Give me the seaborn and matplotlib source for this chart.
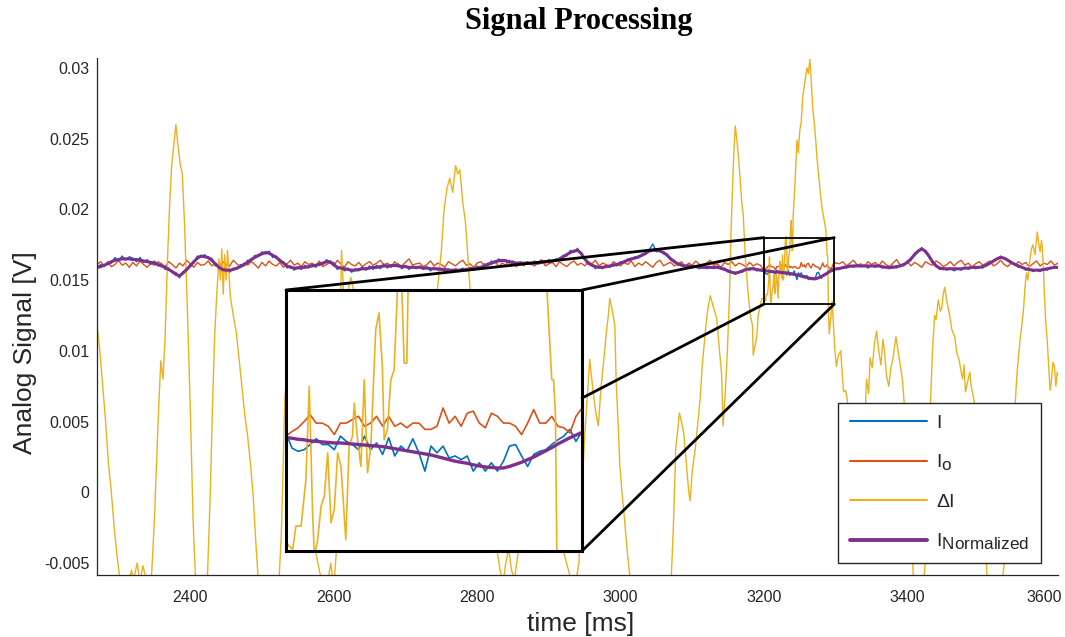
import numpy as np
import matplotlib
matplotlib.use("Agg")
import matplotlib.pyplot as plt
import matplotlib._mathtext as mathtext_core
from matplotlib.patches import Rectangle, ConnectionPatch
from matplotlib.lines import Line2D
from matplotlib.ticker import FuncFormatter
from matplotlib.transforms import ScaledTranslation
import seaborn as sns

# ---------------------------------------------------------------------------
# Sample grids in ms: 5 ms record outside the detail window, 2 ms inside it
# ---------------------------------------------------------------------------
t_coarse = np.concatenate([np.arange(2270, 3200, 5), np.arange(3305, 3611, 5)])
t_fine = np.arange(3200, 3300, 2)

# All amplitudes below are in units of 0.1 mV
i_coarse = [
    158.5, 161, 159.5, 163, 162, 166, 163.5, 167, 164, 166.5,
    165.5, 163, 166, 162.5, 164.5, 161, 163.5, 160, 161.5, 157.5,
    158.5, 155, 155.5, 151.5, 156, 156.5, 161.5, 162, 167, 166,
    168, 165, 165.5, 160, 160.5, 156, 158, 155.5, 158.5, 157.5,
    161, 160, 164, 163.5, 167.5, 166.5, 170, 168.5, 170.5, 166,
    167, 162.5, 163, 158.5, 160, 157, 159.5, 157.5, 160.5, 158.5,
    161.5, 159, 162.5, 161, 164.5, 162, 162.5, 157.5, 159.5, 156.5,
    158.5, 155.5, 158, 156.5, 159.5, 157, 160, 157.5, 160.5, 158,
    161.5, 158.5, 161, 159.5, 161.5, 158, 160.5, 157.5, 160, 158,
    160, 157.5, 159.5, 156.5, 159, 157, 158.5, 156, 158, 155.5,
    158, 156, 158.5, 156.5, 159, 157, 160, 158, 161.5, 160,
    163.5, 162, 165, 163, 164.5, 162, 163.5, 161, 163, 161,
    163, 161, 163.5, 161.5, 163.5, 162, 164.5, 162.5, 165, 164,
    167.5, 167, 171, 169.5, 172.5, 168, 166, 161, 161.5, 158,
    160, 158, 160.5, 159, 161.5, 160, 163, 162, 165, 164,
    166.5, 165.5, 168.5, 168, 171.5, 175.5, 170, 171.5, 168.5, 168.5,
    164, 164, 160.5, 161.5, 159, 160.5, 158.5, 160, 158, 159.5,
    158, 159.5, 158, 160, 157.5, 158.5, 155.5, 156, 154, 156,
    155.5, 158.5, 157, 159, 156.5, 157.5,
    157.5, 159.5, 158.5, 160.5, 159, 161, 159.5, 160.5, 158.5, 160.5,
    159, 160.5, 158.5, 159.5, 158, 160, 158.5, 161, 160, 163.5,
    164, 169, 170, 173, 169.5, 167.5, 162, 160.5, 157.5, 158.5,
    157, 158.5, 156.5, 158, 157, 159, 157.5, 159.5, 158, 159.5,
    158.5, 161, 161.5, 164, 164.5, 167, 165, 164.5, 161.5, 161.5,
    159, 159.5, 157, 158, 156, 157.5, 156, 158, 157, 159,
    158.5, 159.5,
]

io_coarse = [
    161, 163, 160, 162.5, 159.5, 161, 164, 160.5, 162, 159,
    162.5, 160, 163.5, 161, 159, 162, 160.5, 163, 161.5, 159.5,
    163, 161, 158.5, 162, 160, 164, 161.5, 159, 162.5, 160.5,
    161, 163.5, 160, 162, 159.5, 163, 161, 160, 164, 161.5,
    159.5, 162, 160.5, 163, 161, 158.5, 162.5, 160, 163.5, 161,
    160, 162.5, 159, 161.5, 164, 160.5, 162, 159.5, 163, 161,
    162, 160, 163.5, 159.5, 161, 162.5, 160, 164, 161.5, 159,
    163, 161, 160, 162.5, 159.5, 161.5, 163, 160.5, 162, 164,
    160.5, 162, 159, 163, 161, 160, 162.5, 165, 160.5, 161.5,
    162, 159.5, 161, 163.5, 160, 162, 161, 159, 163, 161.5,
    160, 162.5, 164, 160.5, 161.5, 159, 162, 163, 160.5, 162,
    161, 163.5, 159.5, 162, 160.5, 164, 161, 159.5, 162.5, 160,
    163, 161.5, 160, 162.5, 164.5, 160, 161.5, 162.5, 159.5, 163,
    161, 159.5, 162, 163.5, 160.5, 162, 160, 163, 161.5, 164,
    160, 162, 161, 159, 163, 161.5, 160, 162.5, 161, 163.5,
    159.5, 162, 160.5, 163, 161, 159, 162.5, 164, 160, 161.5,
    162.5, 160, 161.5, 163, 159.5, 162, 160.5, 163.5, 161, 160,
    162, 164, 160.5, 161.5, 159, 162.5, 161, 163, 160, 162,
    161, 159.5, 162.5, 160, 161.5, 160.5,
    161.5, 163, 160, 162, 164, 160.5, 161.5, 159.5, 163, 161,
    162.5, 160, 163.5, 161, 159.5, 162, 164.5, 160.5, 161.5, 163,
    160, 162.5, 161, 159, 163, 161.5, 160.5, 163.5, 162, 159.5,
    161, 163, 160, 162.5, 164, 160.5, 162, 159, 161.5, 163,
    160.5, 162, 163.5, 160, 161.5, 164, 161, 159.5, 162.5, 160.5,
    163, 161, 162.5, 159.5, 161.5, 163.5, 160, 162, 161, 163.5,
    160.5, 162,
]

inorm_coarse = [
    159, 159.5, 160.5, 161.5, 163, 164, 164.5, 165, 165, 165,
    164.5, 164.5, 164, 163.5, 163, 162.5, 162, 161, 160, 159,
    157.5, 156, 154, 153, 155, 157.5, 160, 163, 165.5, 167,
    166.5, 166, 164, 161.5, 159, 157.5, 157, 157, 157.5, 158.5,
    159.5, 161, 162.5, 164.5, 166, 167.5, 168.5, 169.5, 169, 167.5,
    166, 164, 162, 160, 159, 158.5, 158.5, 159, 159, 159.5,
    160, 160.5, 161, 162, 163, 163, 161, 159, 158.5, 158,
    157.5, 157, 157, 157.5, 158, 158, 158.5, 159, 159, 159.5,
    160, 160, 160, 160.5, 160, 159.5, 159.5, 159, 159, 159,
    159, 158.5, 158.5, 158, 158, 158, 157.5, 157.5, 157, 157,
    157, 157, 157.5, 157.5, 158, 158, 158.5, 159, 160, 161,
    162, 163, 163.5, 164, 163.5, 163, 162.5, 162, 162, 162,
    162, 162, 162, 162, 162.5, 163, 163, 163.5, 164, 165,
    166.5, 168, 169.5, 170.5, 171, 169, 165, 162, 160.5, 159.5,
    159, 159, 159.5, 160, 160.5, 161, 162, 163, 164, 165,
    165.5, 166.5, 167.5, 169, 170.5, 171, 171, 170.5, 169.5, 167.5,
    165, 163, 161.5, 160.5, 160, 160, 159.5, 159.5, 159, 159,
    159, 159, 159, 159, 158.5, 157.5, 156.5, 155.5, 155, 155.5,
    156.5, 157.5, 158, 158, 157.5, 157,
    158.2, 158.8, 159.3, 159.8, 160, 160, 160, 160, 160, 160,
    160, 160, 159.5, 159, 159, 159, 159.5, 160, 161, 162.5,
    165, 168, 170.5, 172, 170.5, 167, 163, 160, 158.5, 158,
    158, 158, 158, 158, 158, 158.5, 158.5, 159, 159, 159,
    159.5, 160.5, 162, 163.5, 165, 166, 165.5, 164, 162.5, 161,
    160, 159, 158, 157.5, 157, 157, 157, 157.5, 158, 158.5,
    159, 159,
]

i_fine = [
    157.6, 154.7, 154.1, 154.4, 155.4, 156.5, 155.4, 155.4, 154.4, 157.0,
    156.0, 155.4, 154.4, 157.0, 154.4, 155.7, 153.5, 156.7, 153.2, 155.1,
    154.1, 156.5, 153.8, 150.3, 155.1, 153.8, 155.1, 152.8, 153.2, 152.5,
    153.2, 150.3, 151.9, 150.3, 151.9, 150.3, 152.2, 155.1, 155.4, 153.2,
    151.2, 153.5, 154.1, 154.4, 155.4, 156.3, 157.0, 158.3, 156.0, 157.9,
]

io_fine = [
    157.0, 157.9, 158.6, 159.8, 161.1, 159.5, 159.5, 158.9, 157.3, 159.5,
    159.5, 160.2, 160.8, 158.9, 159.5, 160.8, 158.9, 160.8, 158.9, 159.5,
    158.6, 159.5, 159.5, 158.3, 158.3, 158.9, 162.4, 159.5, 160.8, 158.9,
    161.4, 161.8, 159.5, 158.6, 161.4, 160.8, 159.5, 159.5, 158.9, 157.3,
    159.5, 162.1, 159.5, 159.5, 160.8, 158.9, 158.6, 157.6, 160.8, 162.4,
]

inorm_fine = [
    156.7, 156.6, 156.4, 156.3, 156.1, 156.0, 155.9, 155.8, 155.7, 155.7,
    155.6, 155.5, 155.4, 155.3, 155.2, 155.1, 155.0, 154.8, 154.6, 154.4,
    154.2, 154.0, 153.8, 153.6, 153.4, 153.1, 152.8, 152.5, 152.2, 152.0,
    151.8, 151.5, 151.3, 151.1, 151.0, 150.9, 150.9, 151.2, 151.6, 152.0,
    152.5, 153.0, 153.6, 154.2, 154.8, 155.5, 156.1, 156.7, 157.2, 157.7,
]

# Difference signal, (time in ms, amplitude in 0.1 mV)
delta_i_pairs = [
    (2270, 118), (2274, 100), (2278, 75), (2282, 50), (2286, 20), (2290, 0),
    (2294, -25), (2298, -45), (2302, -62), (2306, -70), (2312, -70), (2318, -55),
    (2321, -62), (2326, -50), (2330, -64), (2334, -52), (2338, -60), (2342, -70),
    (2346, -60), (2350, -20), (2353, 20), (2356, 60), (2359, 93), (2362, 80),
    (2365, 110), (2368, 160), (2371, 200), (2374, 230), (2377, 245), (2380, 260),
    (2383, 245), (2386, 232), (2389, 225), (2392, 190), (2396, 130), (2400, 60),
    (2404, -20), (2408, -70), (2420, -70), (2424, -60), (2428, 0), (2431, 60),
    (2434, 110), (2437, 140), (2440, 165), (2442, 150), (2444, 172), (2446, 140),
    (2448, 168), (2450, 150), (2452, 171), (2454, 155), (2456, 138), (2460, 125),
    (2464, 114), (2468, 95), (2472, 75), (2476, 55), (2480, 40), (2484, 20),
    (2488, -4), (2492, -40), (2496, -70), (2523, -70), (2527, -30), (2532, 67),
    (2536, 90), (2540, 60), (2545, 30), (2550, 10), (2556, -10), (2562, -30),
    (2568, -20), (2574, -40), (2580, -55), (2586, -70), (2592, -62), (2596, -50),
    (2600, -68), (2604, -40), (2607, 40), (2609, 120), (2611, 171), (2613, 150),
    (2615, 120), (2618, 130), (2621, 145), (2624, 152), (2627, 145), (2630, 120),
    (2636, 90), (2642, 70), (2650, 50), (2658, 30), (2666, 10), (2676, -10),
    (2686, -30), (2696, -10), (2706, 20), (2716, 50), (2726, 80), (2736, 110),
    (2744, 140), (2750, 170), (2754, 200), (2758, 215), (2762, 222), (2766, 212),
    (2770, 231), (2773, 225), (2776, 228), (2780, 205), (2784, 190), (2788, 160),
    (2792, 130), (2798, 90), (2804, 50), (2810, 20), (2818, -10), (2826, -35),
    (2832, -55), (2836, -65), (2840, -50), (2844, -40), (2848, -55), (2852, -62),
    (2858, -40), (2866, -10), (2874, 20), (2882, 40), (2890, 30), (2898, 10),
    (2906, -10), (2914, -30), (2922, -45), (2930, -60), (2936, -68), (2942, -50),
    (2946, 0), (2950, 40), (2954, 70), (2957, 94), (2962, 70), (2966, 55),
    (2969, 47), (2973, 75), (2977, 95), (2980, 112), (2983, 125), (2985, 137),
    (2988, 130), (2992, 118), (2994, 77), (2997, 45), (2999, 19), (3002, 0),
    (3005, -16), (3010, -45), (3015, -70), (3070, -70), (3074, -20), (3077, 31),
    (3080, 45), (3082, 56), (3085, 50), (3088, 42), (3091, 25), (3095, 1),
    (3097, -6), (3100, 15), (3104, 30), (3108, 50), (3111, 66), (3114, 90),
    (3118, 112), (3121, 127), (3125, 139), (3129, 132), (3134, 123), (3138, 100),
    (3141, 83), (3143, 47), (3146, 70), (3149, 100), (3152, 140), (3154, 183),
    (3156, 213), (3158, 240), (3160, 259), (3162, 250), (3164, 240), (3167, 220),
    (3169, 205), (3171, 197), (3174, 166), (3178, 140), (3181, 125), (3184, 118),
    (3185, 97), (3188, 105), (3190, 110), (3192, 125), (3194, 130), (3197, 137),
    (3200.0, 136.6), (3202.2, 135.3), (3203.3, 139.8), (3205.0, 139.8),
    (3206.6, 148.7), (3207.7, 166.5), (3208.8, 142.3), (3209.4, 134.0),
    (3210.5, 137.2), (3211.6, 143.6), (3212.7, 145.5), (3213.8, 153.8),
    (3214.9, 140.4), (3216.0, 143.0), (3217.1, 153.8), (3218.2, 151.2),
    (3219.8, 137.2), (3220.9, 155.1), (3222.0, 157.0), (3222.6, 163.3),
    (3223.7, 156.3), (3224.8, 151.2), (3225.9, 167.8), (3227.0, 150.0),
    (3228.1, 155.1), (3229.7, 177.4), (3230.8, 180.6), (3231.9, 170.4),
    (3232.5, 156.3), (3233.6, 158.3), (3234.7, 167.8), (3235.8, 169.7),
    (3236.9, 185.0), (3238.0, 192.0), (3239.1, 171.0), (3240.0, 171.0),
    (3240.7, 195.0), (3243, 215), (3246, 249), (3248, 240), (3250, 256),
    (3252, 262), (3254, 279), (3257, 290), (3260, 300), (3262, 296), (3264, 306),
    (3266, 290), (3268, 272), (3270, 262), (3272, 250), (3274, 236), (3276, 225),
    (3278, 215), (3280, 205), (3282, 198), (3284, 192), (3286.4, 185),
    (3288.0, 167.8), (3288.6, 167.8), (3289.2, 161.4), (3289.7, 133),
    (3291, 112), (3293, 122), (3295, 135), (3297, 118), (3299, 100), (3301, 89),
    (3304, 97), (3307, 100), (3309, 85), (3311, 71), (3314, 72), (3316, 66),
    (3318, 55), (3320, 42), (3324, 20), (3329, 10), (3333, 30), (3337, 50),
    (3340, 40), (3343, 80), (3346, 70), (3348, 95), (3351, 88), (3354, 105),
    (3357, 114), (3360, 100), (3363, 90), (3366, 108), (3368, 100), (3371, 82),
    (3374, 75), (3377, 88), (3380, 95), (3384, 110), (3387, 100), (3390, 90),
    (3393, 80), (3396, 60), (3400, 40), (3403, 10), (3406, -30), (3409, -70),
    (3422, -70), (3426, -40), (3429, 10), (3432, 60), (3435, 100), (3438, 125),
    (3440, 122), (3443, 136), (3446, 128), (3448, 130), (3450, 140), (3452, 145),
    (3455, 135), (3459, 125), (3462, 115), (3466, 110), (3469, 98), (3472, 94),
    (3475, 85), (3477, 80), (3479, 90), (3481, 71), (3484, 78), (3487, 85),
    (3489, 75), (3491, 70), (3494, 62), (3497, 50), (3499, 58), (3502, 60),
    (3505, 40), (3508, -20), (3511, -60), (3514, -70), (3530, -70), (3533, -60),
    (3537, -40), (3540, -15), (3543, 0), (3546, 30), (3550, 60), (3553, 85),
    (3557, 107), (3560, 120), (3562, 130), (3564, 145), (3566, 155), (3568, 150),
    (3571, 165), (3573, 172), (3575, 175), (3578, 168), (3581, 184), (3583, 176),
    (3585, 170), (3587, 178), (3588, 173), (3590, 155), (3591, 140), (3593, 120),
    (3595, 107), (3597, 90), (3599, 72), (3601, 80), (3603, 92), (3605, 89),
    (3607, 75), (3609, 85), (3611, 82),
]

series_labels = ["I", r"I$_\mathregular{o}$", "ΔI", r"I$_\mathregular{Normalized}$"]
series_colors = ["#0072BD", "#D95319", "#EDB120", "#7E2F8E"]

xticks = [2400, 2600, 2800, 3000, 3200, 3400, 3600]
yticks = [-0.005, 0, 0.005, 0.01, 0.015, 0.02, 0.025, 0.03]

# ---------------------------------------------------------------------------
# Assemble the full records (0.1 mV -> V)
# ---------------------------------------------------------------------------
scale = 1e-4
t_all = np.concatenate([t_coarse, t_fine])
order = np.argsort(t_all)
t_all = t_all[order]
i_all = np.concatenate([i_coarse, i_fine])[order] * scale
io_all = np.concatenate([io_coarse, io_fine])[order] * scale
inorm_all = np.concatenate([inorm_coarse, inorm_fine])[order] * scale
t_delta, delta_i = np.array(delta_i_pairs, dtype=float).T
delta_i = delta_i * scale

sns.set_style("white")
plt.rcParams["font.family"] = ["Liberation Sans", "DejaVu Sans"]
plt.rcParams["mathtext.fontset"] = "custom"
plt.rcParams["mathtext.rm"] = "Liberation Sans"
# larger subscripts, as in the legend labels
mathtext_core.SHRINK_FACTOR = 0.88

fig = plt.figure(figsize=(10.65, 6.37), dpi=100)
ax = fig.add_axes([97 / 1065, 1 - 575 / 637, 961 / 1065, 517 / 637])

frames = [
    (t_all, i_all, 0, 1.0),
    (t_all, io_all, 1, 1.0),
    (t_delta, delta_i, 2, 1.0),
    (t_all, inorm_all, 3, 2.2),
]
for tx, vy, k, lw in frames:
    sns.lineplot(x=tx, y=vy, ax=ax, color=series_colors[k], linewidth=lw,
                 estimator=None, sort=False)

ax.set_xlim(2270, 3610)
ax.set_ylim(-0.00585, 0.0307)
ax.set_xticks(xticks)
ax.set_yticks(yticks)
ax.yaxis.set_major_formatter(FuncFormatter(lambda v, p: "%g" % round(v, 4)))
ax.tick_params(direction="in", length=5, width=0.9, colors="#262626",
               labelsize=11.5, labelcolor="#262626")
ax.tick_params(axis="y", pad=5.5)
ax.tick_params(axis="x", pad=10.5)
# keep the last x label inside the canvas
last = ax.get_xticklabels()[-1]
last.set_transform(last.get_transform() + ScaledTranslation(-7 / 100, 0, fig.dpi_scale_trans))

for side in ("top", "right"):
    ax.spines[side].set_visible(False)
for side in ("left", "bottom"):
    ax.spines[side].set_color("#262626")
    ax.spines[side].set_linewidth(0.9)

ax.set_xlabel("time [ms]", fontsize=19, color="#262626")
ax.set_ylabel("Analog Signal [V]", fontsize=19, color="#262626")
ax.xaxis.set_label_coords(0.503, -0.072)
ax.yaxis.set_label_coords(-0.062, 0.431)

fig.text(579 / 1065, 1 - 22 / 637, "Signal Processing", ha="center", va="center",
         fontsize=22, fontweight="bold", family="Liberation Serif", color="black")

# Window marker on the main axes
box_x0, box_x1 = 3200, 3298
box_y0, box_y1 = 0.0133, 0.0180
ax.add_patch(Rectangle((box_x0, box_y0), box_x1 - box_x0, box_y1 - box_y0,
                       fill=False, edgecolor="black", linewidth=1.3, zorder=5))

# Legend
handles = [Line2D([], [], color=series_colors[k], linewidth=(2.8 if k == 3 else 1.5))
           for k in range(4)]
leg = ax.legend(handles, series_labels, loc="upper left",
                bbox_to_anchor=(838 / 1065, 1 - 403 / 637),
                bbox_transform=fig.transFigure, borderaxespad=0,
                fontsize=14, handlelength=4.0, handletextpad=0.45,
                labelspacing=1.05, borderpad=0.6, fancybox=False,
                framealpha=1, edgecolor="#262626")
leg.get_frame().set_linewidth(1.0)
leg.set_zorder(10)

# Detail inset
ins = fig.add_axes([286 / 1065, 1 - 551 / 637, 296 / 1065, 261 / 637])
ins.set_facecolor("white")
inset_lw = [1.2, 1.2, 1.2, 2.4]
for tx, vy, k, lw in frames:
    sns.lineplot(x=tx, y=vy, ax=ins, color=series_colors[k], linewidth=inset_lw[k],
                 estimator=None, sort=False)
ins.set_xlim(box_x0, box_x1)
ins.set_ylim(0.0135, 0.0185)
ins.set_xticks([])
ins.set_yticks([])
ins.set_xlabel("")
ins.set_ylabel("")
for s in ins.spines.values():
    s.set_visible(True)
    s.set_color("black")
    s.set_linewidth(2.2)

# Lines tying the inset to the marked window
links = [((0, 1), (box_x0, box_y1)), ((1, 1), (box_x1, box_y1)),
         ((1, 0.586), (box_x0, box_y0)), ((1, 0), (box_x1, box_y0))]
for pa, pb in links:
    cp = ConnectionPatch(xyA=pa, coordsA=ins.transAxes, xyB=pb, coordsB=ax.transData,
                         color="black", linewidth=2.0, zorder=20)
    fig.add_artist(cp)

fig.savefig("out.png", dpi=100)
